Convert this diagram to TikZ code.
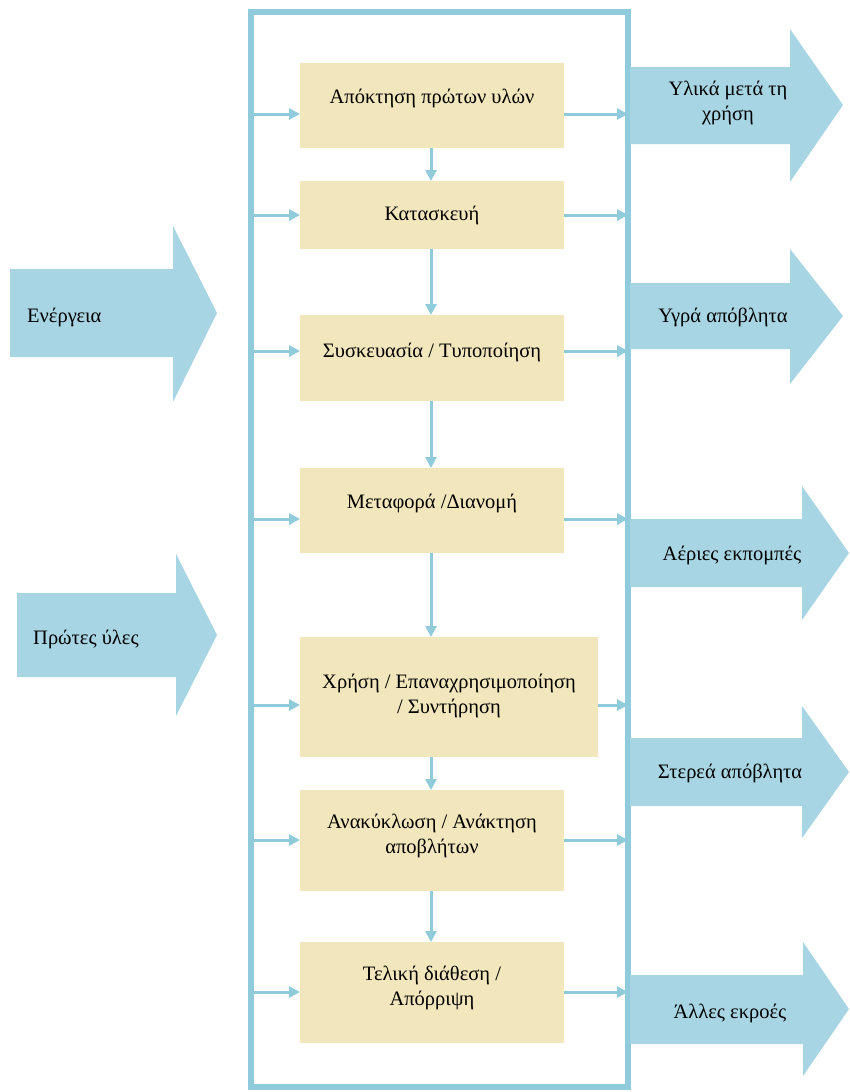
\documentclass[tikz,border=0pt]{standalone}
\usepackage{fontspec}
\setmainfont{Liberation Serif}
\usetikzlibrary{arrows.meta,calc}
\definecolor{lineblue}{HTML}{8FCBDB}
\definecolor{arrowblue}{HTML}{A8D5E3}
\definecolor{boxfill}{HTML}{F2E6BC}
\begin{document}
\begin{tikzpicture}[x=1pt,y=-1pt,
  stage/.style={fill=boxfill,draw=none,inner sep=0pt,outer sep=0pt},
  lbl/.style={font=\fontsize{20.5}{25}\selectfont,align=center,inner sep=0pt,text=black},
  conn/.style={draw=lineblue,line width=3pt,-{Triangle[length=11pt,width=11pt]}},
  blk/.style={fill=arrowblue,draw=none}]
\useasboundingbox (0,0) rectangle (849,1092);
% frame
\node[draw=lineblue,line width=6pt,outer sep=0pt,inner sep=0pt,minimum width=377pt,minimum height=1075pt] (frame) at (439.5,549.5) {};
% stage boxes
\node[stage,minimum width=264pt,minimum height=85pt] (b1) at (432,105.5) {};
\node[stage,minimum width=264pt,minimum height=68pt] (b2) at (432,215) {};
\node[stage,minimum width=264pt,minimum height=86pt] (b3) at (432,358) {};
\node[stage,minimum width=264pt,minimum height=85pt] (b4) at (432,510.5) {};
\node[stage,minimum width=298pt,minimum height=120pt] (b5) at (449,697) {};
\node[stage,minimum width=264pt,minimum height=101pt] (b6) at (432,840.5) {};
\node[stage,minimum width=264pt,minimum height=101pt] (b7) at (432,992.5) {};
\node[lbl] (t1) at (432,98) {Απόκτηση πρώτων υλών};
\node[lbl] (t2) at (432,215) {Κατασκευή};
\node[lbl] (t3) at (432,352) {Συσκευασία / Τυποποίηση};
\node[lbl] (t4) at (432,503) {Μεταφορά /Διανομή};
\node[lbl] (t5) at (449,696) {Χρήση / Επαναχρησιμοποίηση\\/ Συντήρηση};
\node[lbl] (t6) at (432,836) {Ανακύκλωση / Ανάκτηση\\αποβλήτων};
\node[lbl] (t7) at (432,988) {Τελική διάθεση /\\Απόρριψη};
% arrow levels
\coordinate (y1) at (0,114);
\coordinate (y2) at (0,215);
\coordinate (y3) at (0,351);
\coordinate (y4) at (0,519);
\coordinate (y5) at (0,705);
\coordinate (y6) at (0,840);
\coordinate (y7) at (0,992);
\coordinate (vx) at (431,0);
\foreach \i in {1,...,7}{
  \draw[conn] (frame.west |- y\i) -- (b\i.west |- y\i);
  \draw[conn] (b\i.east |- y\i) -- (frame.east |- y\i);
}
\draw[conn] (b1.south -| vx) -- (b2.north -| vx);
\draw[conn] (b2.south -| vx) -- (b3.north -| vx);
\draw[conn] (b3.south -| vx) -- (b4.north -| vx);
\draw[conn] (b4.south -| vx) -- (b5.north -| vx);
\draw[conn] (b5.south -| vx) -- (b6.north -| vx);
\draw[conn] (b6.south -| vx) -- (b7.north -| vx);
% left block arrows
\fill[blk] (10,269) -- (173,269) -- (173,226) -- (217,313) -- (173,402) -- (173,357) -- (10,357) -- cycle;
\fill[blk] (17,593) -- (176,593) -- (176,554) -- (217,635) -- (176,716) -- (176,677) -- (17,677) -- cycle;
\node[lbl,anchor=west] (in1) at (27,317) {Ενέργεια};
\node[lbl,anchor=west] (in2) at (33,639) {Πρώτες ύλες};
% right block arrows
\fill[blk] (630,67) -- (790,67) -- (790,29) -- (843,105) -- (790,182) -- (790,144) -- (630,144) -- cycle;
\fill[blk] (630,283) -- (790,283) -- (790,249) -- (843,316) -- (790,384) -- (790,349) -- (630,349) -- cycle;
\fill[blk] (630,519) -- (802,519) -- (802,486) -- (849,553) -- (802,620) -- (802,587) -- (630,587) -- cycle;
\fill[blk] (630,738) -- (802,738) -- (802,706) -- (849,772) -- (802,838) -- (802,806) -- (630,806) -- cycle;
\fill[blk] (630,975) -- (803,975) -- (803,942) -- (849,1009) -- (803,1076) -- (803,1044) -- (630,1044) -- cycle;
\node[lbl] (out1) at (728,103) {Υλικά μετά τη\\χρήση};
\node[lbl] (out2) at (723,317) {Υγρά απόβλητα};
\node[lbl] (out3) at (732,555) {Αέριες εκπομπές};
\node[lbl] (out4) at (730,773) {Στερεά απόβλητα};
\node[lbl] (out5) at (730,1013) {Άλλες εκροές};
\end{tikzpicture}
\end{document}
